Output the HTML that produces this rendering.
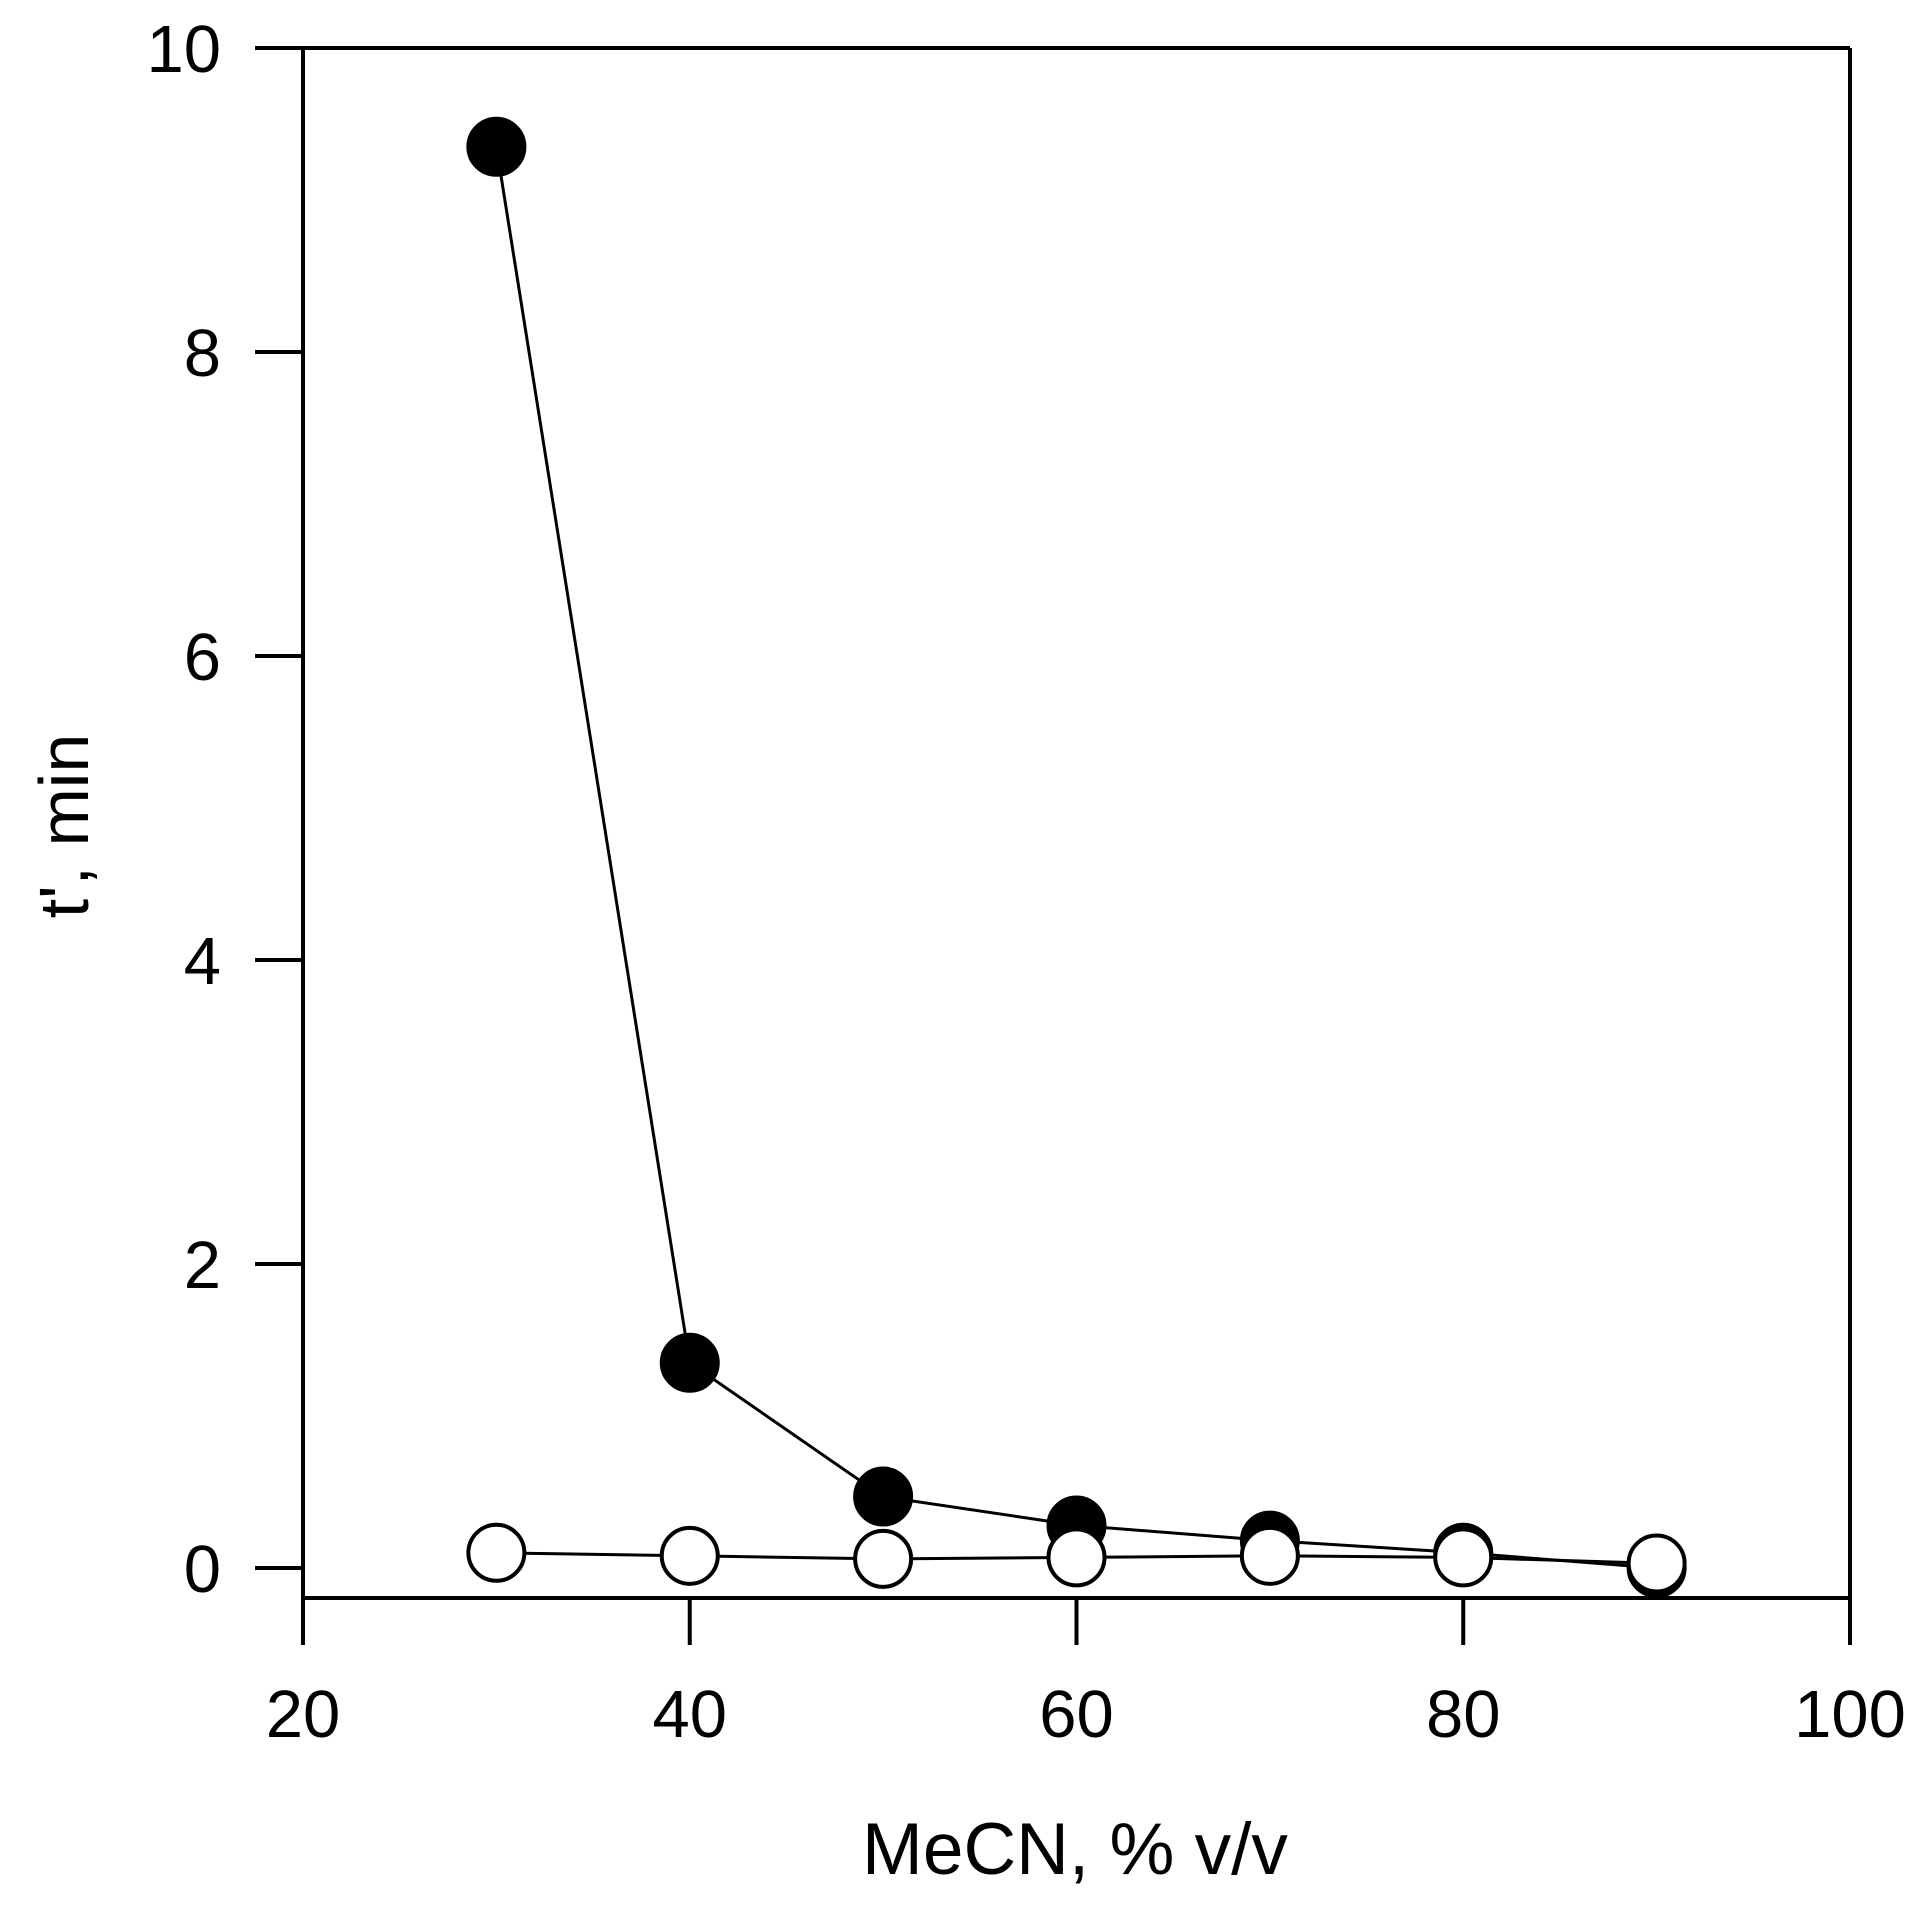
<!DOCTYPE html>
<html><head><meta charset="utf-8"><style>
html,body{margin:0;padding:0;background:#fff;}
svg{display:block;}
text{font-family:"Liberation Sans",sans-serif;fill:#000;}
</style></head><body>
<svg id="chart" width="1920" height="1905" viewBox="0 0 1920 1905">
<g id="axes"></g>
<g id="series"></g>
</svg>
<script>
const xCats = [30, 40, 50, 60, 70, 80, 90];
const filledVals = [9.35, 1.35, 0.47, 0.28, 0.18, 0.1, 0.0];
const openVals = [0.1, 0.08, 0.06, 0.07, 0.08, 0.07, 0.03];
const xTicks = [20, 40, 60, 80, 100];
const yTicks = [0, 2, 4, 6, 8, 10];

const NS = "http://www.w3.org/2000/svg";
function X(v){ return 303 + (v - 20) * (1547 / 80); }
function Y(v){ return 1568 - v * 152; }
function mk(tag, attrs, parent){
  const e = document.createElementNS(NS, tag);
  for (const k in attrs) e.setAttribute(k, attrs[k]);
  parent.appendChild(e);
  return e;
}
const axes = document.getElementById('axes');
const series = document.getElementById('series');
const st = {stroke:'#000','stroke-width':4,fill:'none'};

let e = mk('line', Object.assign({x1:303,y1:48,x2:303,y2:1598}, st), axes);


e = mk('line', Object.assign({x1:303,y1:1598,x2:1850,y2:1598}, st), axes);


e = mk('line', Object.assign({x1:255,y1:48,x2:1850,y2:48}, st), axes);


e = mk('line', Object.assign({x1:1850,y1:48,x2:1850,y2:1645}, st), axes);



xTicks.forEach(v => {
  const t = mk('line', Object.assign({x1:X(v),y1:1598,x2:X(v),y2:1645}, st), axes);
  
  
  const l = mk('text', {x:X(v), y:1737, 'font-size':67, 'text-anchor':'middle'}, axes);
  l.textContent = v;
  
  
});
yTicks.forEach(v => {
  const t = mk('line', Object.assign({x1:255,y1:Y(v),x2:303,y2:Y(v)}, st), axes);
  
  
  const l = mk('text', {x:221, y:Y(v)+24, 'font-size':67, 'text-anchor':'end'}, axes);
  l.textContent = v;
  
  
});
e = mk('text', {x:1075, y:1874, 'font-size':73, 'text-anchor':'middle'}, axes);
e.textContent = 'MeCN, % v/v';


e = mk('text', {x:0, y:0, 'font-size':70, 'text-anchor':'middle', transform:'translate(88,826) rotate(-90)'}, axes);
e.textContent = "t', min";



function drawSeries(vals, filled, name){
  const pts = xCats.map((c,i) => X(c).toFixed(1) + ',' + Y(vals[i]).toFixed(1)).join(' ');
  const pl = mk('polyline', {points:pts, stroke:'#000', 'stroke-width':3, fill:'none'}, series);
  
  
  xCats.forEach((c,i) => {
    const p = mk('circle', {cx:X(c), cy:Y(vals[i]), r:28, fill: filled ? '#000' : '#fff', stroke:'#000', 'stroke-width':4}, series);
    
    
  });
}
drawSeries(filledVals, true, 'filled-series');
drawSeries(openVals, false, 'open-series');
</script>
</body></html>
